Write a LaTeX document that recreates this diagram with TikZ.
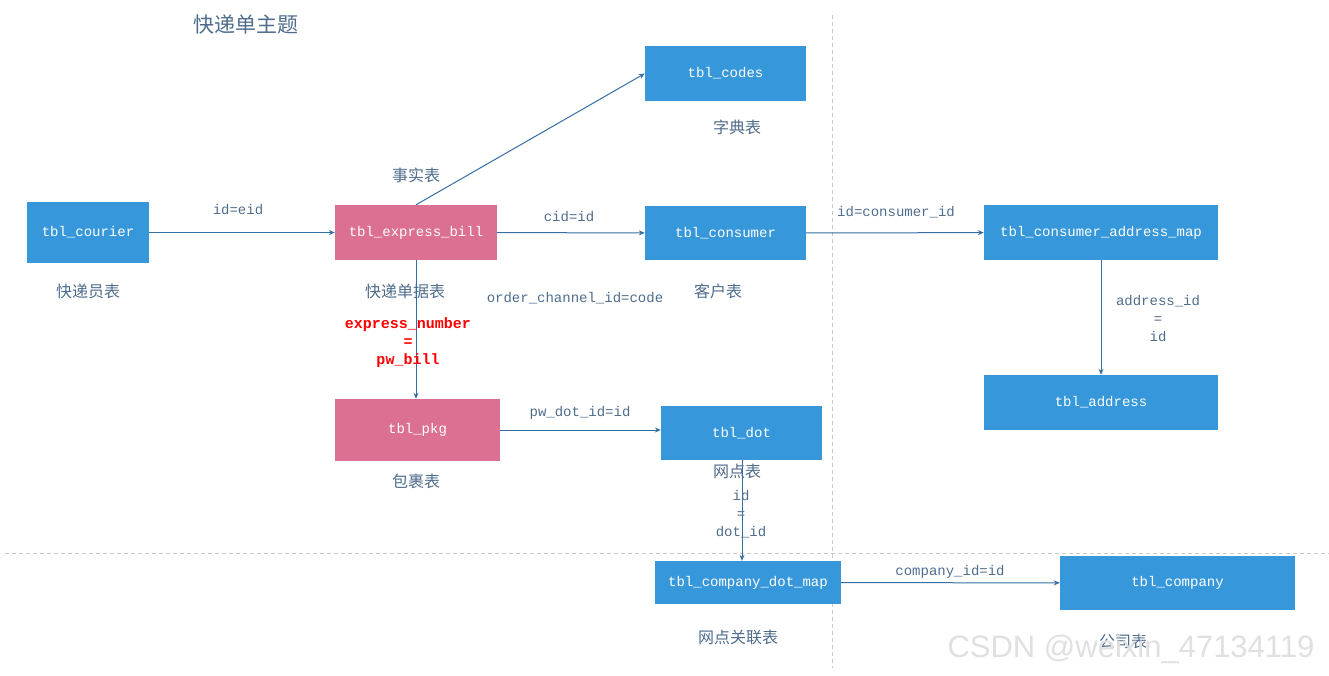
\documentclass[tikz,border=0pt]{standalone}
\usepackage{fontspec}
\setmainfont{Liberation Sans}
\setmonofont{Liberation Mono}
\newfontfamily\cjk{Noto Sans CJK SC}
\usetikzlibrary{arrows.meta}

\definecolor{tblblue}{RGB}{54,152,218}
\definecolor{tblpink}{RGB}{220,112,147}
\definecolor{linkc}{RGB}{52,110,165}
\definecolor{labelc}{RGB}{78,108,140}
\definecolor{sepc}{RGB}{200,200,200}

\begin{document}
\begin{tikzpicture}[x=1pt, y=-1pt,
  table/.style={fill=tblblue, text=white, inner sep=0pt,
    font=\ttfamily\fontsize{14}{14}\selectfont},
  fact/.style={table, fill=tblpink},
  caption/.style={text=labelc, font=\cjk\fontsize{16}{16}\selectfont},
  key/.style={text=labelc, align=center,
    font=\ttfamily\fontsize{14}{18}\selectfont},
  link/.style={draw=linkc, line width=1pt, -{Stealth[length=6pt, width=5pt]}},
  sep/.style={draw=sepc, line width=0.8pt, dash pattern=on 4pt off 3pt}]
  \useasboundingbox (0, 0) rectangle (1329, 675);

  % separators
  \draw[sep] (832, 15) -- (832, 668);
  \draw[sep] (5, 553) -- (1329, 553);

  \node[caption, font=\cjk\fontsize{21}{21}\selectfont] (title) at (246, 25) {快递单主题};

  % tables
  \node[table, minimum width=122, minimum height=61] (courier) at (88, 232.5) {tbl\_courier};
  \node[fact, minimum width=162, minimum height=55] (bill) at (416, 232.5) {tbl\_express\_bill};
  \node[table, minimum width=161, minimum height=55] (codes) at (725.5, 73.5) {tbl\_codes};
  \node[table, minimum width=161, minimum height=54] (consumer) at (725.5, 233) {tbl\_consumer};
  \node[table, minimum width=234, minimum height=55] (cam) at (1101, 232.5) {tbl\_consumer\_address\_map};
  \node[table, minimum width=234, minimum height=55] (address) at (1101, 402.5) {tbl\_address};
  \node[fact, minimum width=165, minimum height=62] (pkg) at (417.5, 430) {tbl\_pkg};
  \node[table, minimum width=161, minimum height=54] (dot) at (741.5, 433) {tbl\_dot};
  \node[table, minimum width=186, minimum height=43] (cdm) at (748, 582.5) {tbl\_company\_dot\_map};
  \node[table, minimum width=235, minimum height=54] (company) at (1177.5, 583) {tbl\_company};

  % table captions
  \node[caption] (courierlbl) at (88, 291) {快递员表};
  \node[caption] (billlbl) at (405, 291) {快递单据表};
  \node[caption] (factlbl) at (416, 175) {事实表};
  \node[caption] (codeslbl) at (737, 127) {字典表};
  \node[caption] (consumerlbl) at (718, 291) {客户表};
  \node[caption] (pkglbl) at (416, 481) {包裹表};
  \node[caption] (dotlbl) at (737, 471) {网点表};
  \node[caption] (cdmlbl) at (738, 637) {网点关联表};
  \node[caption] (companylbl) at (1123, 641) {公司表};

  % joins
  \draw[link] (courier) -- (bill);
  \draw[link] (bill) -- (consumer);
  \draw[link] (bill.north) -- (codes.west);
  \draw[link] (bill.south) -- (bill.south |- pkg.north);
  \draw[link] (consumer) -- (cam);
  \draw[link] (cam) -- (address);
  \draw[link] (pkg.east) -- (pkg.east -| dot.west);
  \draw[link] (dot.south -| 742, 0) -- (742, 0 |- cdm.north);
  \draw[link] (cdm) -- (company);

  % join keys
  \node[key] (k1) at (238, 210) {id=eid};
  \node[key] (k2) at (569, 217) {cid=id};
  \node[key] (k3) at (575, 298) {order\_channel\_id=code};
  \node[key] (k4) at (896, 212) {id=consumer\_id};
  \node[key] (k5) at (1158, 319) {address\_id\\=\\id};
  \node[key, text=red, font=\ttfamily\bfseries\fontsize{15}{18}\selectfont] (k6) at (408, 343) {express\_number\\=\\pw\_bill};
  \node[key] (k7) at (580, 413) {pw\_dot\_id=id};
  \node[key] (k8) at (741, 514) {id\\=\\dot\_id};
  \node[key] (k9) at (950, 572) {company\_id=id};

  \node[text=black!12, font=\fontsize{31}{31}\selectfont] (mark) at (1131, 649) {CSDN @weixin\_47134119};
\end{tikzpicture}
\end{document}
